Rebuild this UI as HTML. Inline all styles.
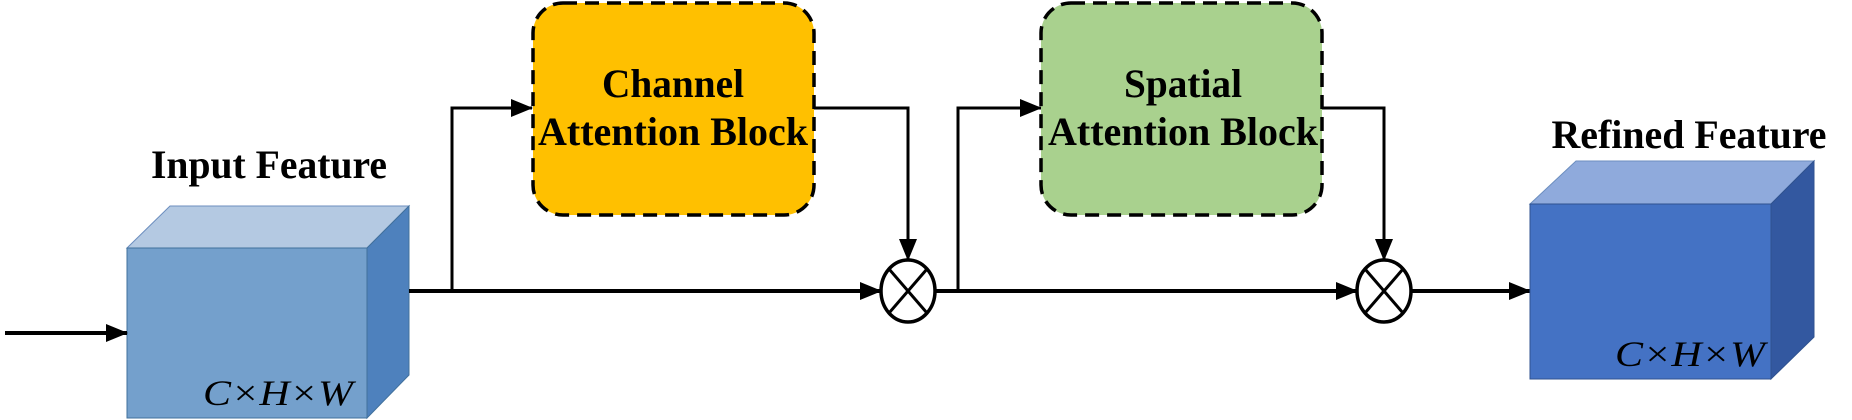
<!DOCTYPE html>
<html><head><meta charset="utf-8"><style>html,body{margin:0;padding:0;background:#fff}svg{display:block}</style></head>
<body>
<svg width="1852" height="420" viewBox="0 0 1852 420" xmlns="http://www.w3.org/2000/svg">
<defs>
<marker id="b" markerWidth="22" markerHeight="18" refX="21" refY="9" orient="auto" markerUnits="userSpaceOnUse">
<path d="M0,0 L22,9 L0,18 z" fill="#000"/></marker>
</defs>
<g font-family="Liberation Serif, serif" font-weight="bold" font-size="40" text-anchor="middle">
<polygon points="127,248 170,206 409,206 367,248" fill="#B4C9E2" stroke="#6C8EBF" stroke-width="1"/>
<polygon points="367,248 409,206 409,375 367,418" fill="#4E81BD" stroke="#41719C" stroke-width="1"/>
<rect x="127" y="248" width="240" height="170" fill="#74A0CC" stroke="#41719C" stroke-width="1"/>
<text x="269" y="178" textLength="236" lengthAdjust="spacingAndGlyphs">Input Feature</text>
<text x="278" y="405" font-weight="normal" font-style="italic" font-size="36" textLength="150" lengthAdjust="spacingAndGlyphs">C×H×W</text>
<line x1="5" y1="333" x2="127" y2="333" stroke="#000" stroke-width="4" marker-end="url(#b)"/>
<line x1="409" y1="291" x2="881" y2="291" stroke="#000" stroke-width="4" marker-end="url(#b)"/>
<polyline points="452,291 452,108 532,108" fill="none" stroke="#000" stroke-width="3" marker-end="url(#b)"/>
<rect x="533" y="3" width="281" height="212" rx="30" fill="#FFC000" stroke="#000" stroke-width="3.5" stroke-dasharray="14,8"/>
<text x="673" y="97" textLength="142" lengthAdjust="spacingAndGlyphs">Channel</text>
<text x="673" y="145" textLength="270" lengthAdjust="spacingAndGlyphs">Attention Block</text>
<polyline points="814,108 908,108 908,260" fill="none" stroke="#000" stroke-width="3" marker-end="url(#b)"/>
<ellipse cx="908" cy="291" rx="27" ry="31" fill="#fff" stroke="#000" stroke-width="3.5"/>
<line x1="889" y1="269" x2="927" y2="313" stroke="#000" stroke-width="3"/>
<line x1="927" y1="269" x2="889" y2="313" stroke="#000" stroke-width="3"/>
<line x1="935" y1="291" x2="1357" y2="291" stroke="#000" stroke-width="4" marker-end="url(#b)"/>
<polyline points="958,291 958,108 1041,108" fill="none" stroke="#000" stroke-width="3" marker-end="url(#b)"/>
<rect x="1041" y="3" width="281" height="212" rx="30" fill="#A9D18E" stroke="#000" stroke-width="3.5" stroke-dasharray="14,8"/>
<text x="1183" y="97" textLength="118" lengthAdjust="spacingAndGlyphs">Spatial</text>
<text x="1183" y="145" textLength="270" lengthAdjust="spacingAndGlyphs">Attention Block</text>
<polyline points="1322,108 1384,108 1384,260" fill="none" stroke="#000" stroke-width="3" marker-end="url(#b)"/>
<ellipse cx="1384" cy="291" rx="27" ry="31" fill="#fff" stroke="#000" stroke-width="3.5"/>
<line x1="1365" y1="269" x2="1403" y2="313" stroke="#000" stroke-width="3"/>
<line x1="1403" y1="269" x2="1365" y2="313" stroke="#000" stroke-width="3"/>
<line x1="1411" y1="291" x2="1530" y2="291" stroke="#000" stroke-width="4" marker-end="url(#b)"/>
<polygon points="1530,204 1576,161 1814,161 1771,204" fill="#8FAADC" stroke="#6C8EBF" stroke-width="1"/>
<polygon points="1771,204 1814,161 1814,337 1771,379" fill="#3358A0" stroke="#2F528F" stroke-width="1"/>
<rect x="1530" y="204" width="241" height="175" fill="#4472C4" stroke="#2F528F" stroke-width="1"/>
<text x="1689" y="148" textLength="275" lengthAdjust="spacingAndGlyphs">Refined Feature</text>
<text x="1690" y="366" font-weight="normal" font-style="italic" font-size="36" textLength="150" lengthAdjust="spacingAndGlyphs">C×H×W</text>
</g>
</svg>
</body></html>
